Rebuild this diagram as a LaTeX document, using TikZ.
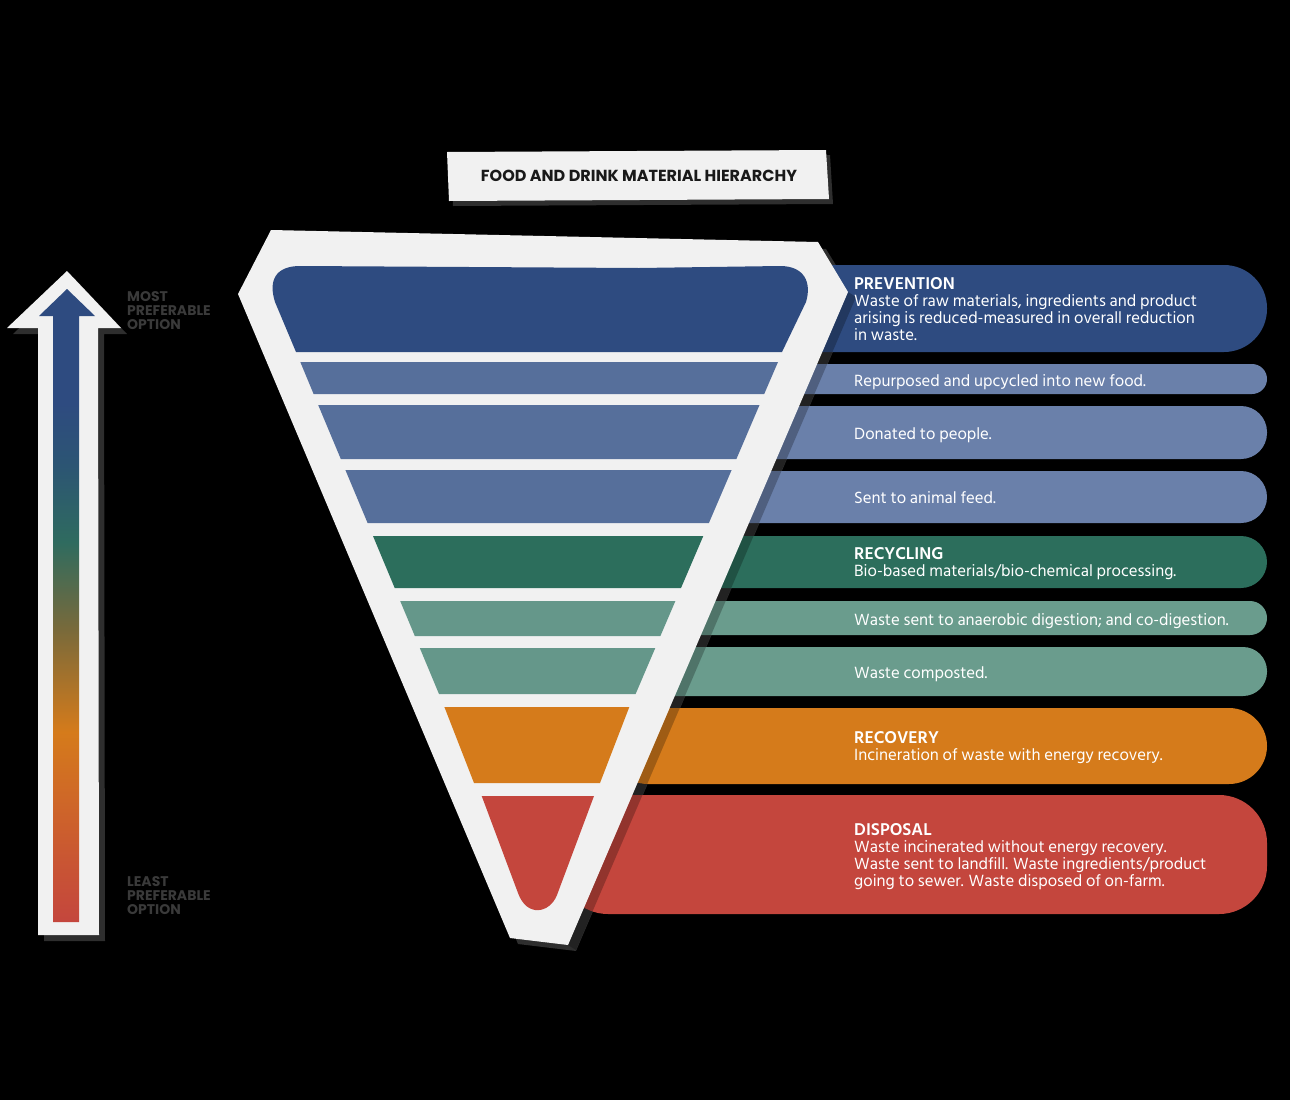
\documentclass[tikz,border=0pt]{standalone}
\usepackage{fontspec}
\setmainfont{Hind Siliguri}
\newfontfamily\titlefont{Poppins}
\definecolor{prevblue}{HTML}{2E4B80}
\definecolor{barblue}{HTML}{6A80AA}
\definecolor{pyrblue}{HTML}{566F9B}
\definecolor{darkgreen}{HTML}{2C6E5C}
\definecolor{bargreen}{HTML}{6A9C8D}
\definecolor{pyrgreen}{HTML}{65978A}
\definecolor{orangec}{HTML}{D57B1B}
\definecolor{redc}{HTML}{C4463D}
\definecolor{paper}{HTML}{F1F1F1}
\definecolor{shadowc}{HTML}{2E2E2E}
\definecolor{labelgrey}{HTML}{3A3A3A}
\definecolor{olivec}{HTML}{7A6A3A}
\definecolor{tealc}{HTML}{2F6B5F}
\definecolor{blueteal}{HTML}{2C5573}
\pgfdeclareverticalshading{arrowgrad}{100bp}{color(0bp)=(redc); color(25bp)=(redc); color(30bp)=(redc!70!orangec); color(40bp)=(orangec); color(48bp)=(olivec); color(55bp)=(tealc); color(61bp)=(blueteal); color(66bp)=(prevblue); color(75bp)=(prevblue); color(100bp)=(prevblue)}
\newcommand\mybar[5]{\fill[#5, rounded corners=#4pt] (#1,#2) -- (1267,#2) -- (1267,#3) -- (#1,#3) -- cycle;}
\newcommand\hd[1]{{\fontsize{17.5}{17}\selectfont\bfseries #1}}
\tikzset{
  bartext/.style={text=white, inner sep=0pt, font=\fontsize{16.7}{17.2}\selectfont, align=left},
  sidelabel/.style={text=labelgrey, inner sep=0pt, font=\titlefont\bfseries\fontsize{14}{14}\selectfont, align=left, anchor=north west},
  paperfill/.style={fill=paper},
  shadowfill/.style={fill=shadowc}
}
\begin{document}
\begin{tikzpicture}[x=1pt,y=-1pt]
\fill[black] (0,0) rectangle (1290,1100);
\useasboundingbox (0,0) rectangle (1290,1100);
% ---------- right bars ----------
\fill[shadowc] (254,298) -- (279,237) -- (826,249) -- (856,298) -- (576,951) -- (518,944) -- cycle;
\mybar{760}{265}{352}{43}{prevblue}
\mybar{760}{364}{394}{15}{barblue}
\mybar{740}{406}{459}{26}{barblue}
\mybar{720}{471}{523}{26}{barblue}
\mybar{690}{536}{588}{26}{darkgreen}
\mybar{660}{601}{635}{17}{bargreen}
\mybar{640}{647}{696}{24}{bargreen}
\mybar{610}{708}{784}{38}{orangec}
\mybar{560}{795}{914}{48}{redc}
% pyramid shadow on bars
\fill[black, opacity=0.25] (848,292) -- (856,297) -- (576,950) -- (568,945) -- cycle;
% ---------- pyramid ----------
\fill[paperfill] (271,230) -- (818,242) -- (848,292) -- (568,945) -- (510,938) -- (238,294) -- cycle;
\fill[prevblue] (296,352) -- (275,302) .. controls (268,280) and (276,266) .. (300,266) -- (639,268) -- (780,266) .. controls (804,266) and (812,282) .. (806,302) -- (782,352) -- cycle;
\fill[pyrblue] (300.3,362) -- (778,362) -- (764.2,394) -- (313.6,394) -- cycle;
\fill[pyrblue] (318.2,405) -- (759.5,405) -- (736.4,459) -- (340.8,459) -- cycle;
\fill[pyrblue] (345.4,470) -- (731.6,470) -- (708.9,523) -- (367.6,523) -- cycle;
\fill[darkgreen] (373,536) -- (703.3,536) -- (681,588) -- (394.7,588) -- cycle;
\fill[pyrgreen] (400.2,601) -- (675.4,601) -- (660.4,636) -- (414.8,636) -- cycle;
\fill[pyrgreen] (419.8,648) -- (655.3,648) -- (635.6,694) -- (439,694) -- cycle;
\fill[orangec] (444.4,707) -- (629.3,707) -- (600,783) -- (474,783) -- cycle;
\fill[redc] (481.7,796) -- (594,796) -- (557,895) .. controls (550,913) and (527,918) .. (518,893) -- cycle;
% ---------- title ----------
\fill[shadowc] (451,157) -- (830,155) -- (833,204) -- (453,206) -- cycle;
\fill[paperfill] (447,152) -- (826,150) -- (829,199) -- (449,201) -- cycle;
\node[text=black!90, inner sep=0pt, font=\titlefont\bfseries\fontsize{16}{18}\selectfont] (title) at (639,176) {FOOD AND DRINK MATERIAL HIERARCHY};
% ---------- arrow ----------
\fill[shadowc] (73,277) -- (127,334) -- (104,334) -- (105,941) -- (44,941) -- (44,334) -- (13,334) -- cycle;
\fill[paperfill] (67,271) -- (121,328) -- (98,328) -- (99,935) -- (38,935) -- (38,328) -- (7,328) -- cycle;
\shade[shading=arrowgrad] (67,289) -- (95,316) -- (79,316) -- (79,922) -- (53,922) -- (53,316) -- (39,316) -- cycle;
\node[sidelabel] (most) at (127,291) {MOST\\PREFERABLE\\OPTION};
\node[sidelabel] (least) at (127,876) {LEAST\\PREFERABLE\\OPTION};
% ---------- bar texts ----------
\node[bartext, anchor=north west] (prev) at (854,277) {\hd{PREVENTION}\\Waste of raw materials, ingredients and product\\arising is reduced-measured in overall reduction\\in waste.};
\node[bartext, anchor=base west] (repurp) at (854,386) {Repurposed and upcycled into new food.};
\node[bartext, anchor=base west] (donated) at (854,439) {Donated to people.};
\node[bartext, anchor=base west] (animal) at (854,503) {Sent to animal feed.};
\node[bartext, anchor=north west] (recyc) at (854,547) {\hd{RECYCLING}\\Bio-based materials/bio-chemical processing.};
\node[bartext, anchor=base west] (anaer) at (854,625) {Waste sent to anaerobic digestion; and co-digestion.};
\node[bartext, anchor=base west] (compost) at (854,678) {Waste composted.};
\node[bartext, anchor=north west] (recov) at (854,731) {\hd{RECOVERY}\\Incineration of waste with energy recovery.};
\node[bartext, anchor=north west] (disp) at (854,823) {\hd{DISPOSAL}\\Waste incinerated without energy recovery.\\Waste sent to landfill. Waste ingredients/product\\going to sewer. Waste disposed of on-farm.};
\end{tikzpicture}
\end{document}
